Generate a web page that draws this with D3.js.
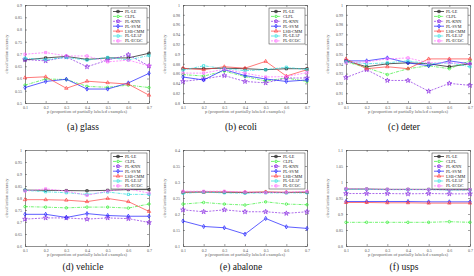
<!DOCTYPE html>
<html>
<head>
<meta charset="utf-8">
<script src="https://cdn.jsdelivr.net/npm/d3@7"></script>
<style>
  body { margin: 0; background: #fff; }
  text { font-family: "Liberation Serif", "DejaVu Serif", serif; }
</style>
</head>
<body>
<svg width="474" height="276"></svg>
<script>
// proportion of partially labeled examples
var pValues = [0.1, 0.2, 0.3, 0.4, 0.5, 0.6, 0.7];
var methods = ["PL-LE", "CLPL", "PL-KNN", "PL-SVM", "LSB-CMM", "PL-LEAF", "PL-ECOC"];

// accuracies, one row per method (same order as methods)
var glass = [
  [0.676, 0.684, 0.690, 0.678, 0.684, 0.684, 0.703],
  [0.573, 0.598, 0.596, 0.568, 0.564, 0.573, 0.563],
  [0.677, 0.672, 0.688, 0.648, 0.675, 0.697, 0.651],
  [0.563, 0.588, 0.597, 0.557, 0.557, 0.582, 0.621],
  [0.603, 0.607, 0.560, 0.589, 0.583, 0.577, 0.532],
  [0.683, 0.677, 0.686, 0.675, 0.686, 0.676, 0.694],
  [0.699, 0.706, 0.692, 0.692, 0.668, 0.675, 0.652]
];
var ecoli = [
  [0.870, 0.870, 0.871, 0.870, 0.868, 0.870, 0.870],
  [0.858, 0.855, 0.865, 0.854, 0.845, 0.851, 0.844],
  [0.844, 0.849, 0.856, 0.844, 0.841, 0.851, 0.851],
  [0.853, 0.847, 0.868, 0.856, 0.849, 0.844, 0.847],
  [0.871, 0.868, 0.874, 0.871, 0.885, 0.855, 0.868],
  [0.867, 0.876, 0.870, 0.866, 0.868, 0.873, 0.868],
  [0.861, 0.861, 0.869, 0.861, 0.853, 0.854, 0.862]
];
var deter = [
  [0.943, 0.937, 0.940, 0.941, 0.940, 0.937, 0.940],
  [0.942, 0.936, 0.929, 0.935, 0.938, 0.935, 0.943],
  [0.926, 0.934, 0.923, 0.923, 0.912, 0.920, 0.918],
  [0.943, 0.943, 0.946, 0.941, 0.938, 0.943, 0.940],
  [0.945, 0.935, 0.937, 0.935, 0.945, 0.945, 0.945],
  [0.942, 0.940, 0.941, 0.943, 0.940, 0.941, 0.937],
  [0.941, 0.942, 0.945, 0.946, 0.941, 0.941, 0.940]
];
var vehicle = [
  [0.833, 0.832, 0.831, 0.830, 0.832, 0.835, 0.835],
  [0.764, 0.762, 0.759, 0.762, 0.762, 0.758, 0.775],
  [0.712, 0.717, 0.717, 0.712, 0.717, 0.714, 0.698],
  [0.732, 0.732, 0.719, 0.735, 0.727, 0.724, 0.724],
  [0.793, 0.793, 0.791, 0.785, 0.798, 0.785, 0.744],
  [0.832, 0.826, 0.822, 0.815, 0.825, 0.815, 0.815],
  [0.829, 0.838, 0.829, 0.811, 0.829, 0.838, 0.820]
];
var abalone = [
  [0.268, 0.269, 0.268, 0.267, 0.268, 0.267, 0.268],
  [0.231, 0.236, 0.231, 0.228, 0.238, 0.231, 0.229],
  [0.213, 0.207, 0.213, 0.207, 0.207, 0.202, 0.207],
  [0.178, 0.161, 0.157, 0.137, 0.186, 0.160, 0.155],
  [0.268, 0.268, 0.269, 0.268, 0.269, 0.268, 0.268],
  [0.265, 0.268, 0.266, 0.265, 0.266, 0.266, 0.266],
  [0.271, 0.271, 0.271, 0.269, 0.267, 0.268, 0.271]
];
var usps = [
  [0.978, 0.978, 0.977, 0.977, 0.977, 0.976, 0.976],
  [0.874, 0.874, 0.874, 0.874, 0.874, 0.876, 0.874],
  [0.964, 0.964, 0.964, 0.963, 0.964, 0.963, 0.963],
  [0.939, 0.939, 0.939, 0.939, 0.938, 0.938, 0.938],
  [0.936, 0.936, 0.935, 0.935, 0.934, 0.934, 0.934],
  [0.977, 0.977, 0.976, 0.976, 0.976, 0.975, 0.975],
  [0.979, 0.978, 0.977, 0.977, 0.976, 0.976, 0.976]
];

var glassTicks   = [0.5, 0.55, 0.6, 0.65, 0.7, 0.75, 0.8, 0.85, 0.9];
var ecoliTicks   = [0.8, 0.82, 0.84, 0.86, 0.88, 0.9, 0.92, 0.94, 0.96, 0.98, 1];
var deterTicks   = [0.9, 0.91, 0.92, 0.93, 0.94, 0.95, 0.96, 0.97, 0.98, 0.99, 1];
var vehicleTicks = [0.6, 0.65, 0.7, 0.75, 0.8, 0.85, 0.9, 0.95, 1];
var abaloneTicks = [0.1, 0.15, 0.2, 0.25, 0.3, 0.35, 0.4];
var uspsTicks    = [0.8, 0.85, 0.9, 0.95, 1, 1.05, 1.1];

var captions = ["(a) glass", "(b) ecoli", "(c) deter", "(d) vehicle", "(e) abalone", "(f) usps"];

var colors  = ["#111111", "#33ee33", "#8a2be2", "#1a1aff", "#ff4040", "#22dddd", "#ff66ff"];
var dashes  = [null, "3,1,0.8,1", "2,1.3", null, null, "3,1,0.8,1", "2,1.3"];
var symbols = [d3.symbolSquare, d3.symbolCircle, d3.symbolStar, d3.symbolDiamond,
               d3.symbolTriangle, d3.symbolSquare, d3.symbolSquare];

var panels = [
  {data: glass,   ticks: glassTicks,   x0: 25,  y0: 5,   w: 124, h: 98, cap: 27},
  {data: ecoli,   ticks: ecoliTicks,   x0: 183, y0: 5,   w: 124, h: 98, cap: 27},
  {data: deter,   ticks: deterTicks,   x0: 346, y0: 5,   w: 124, h: 98, cap: 27},
  {data: vehicle, ticks: vehicleTicks, x0: 25,  y0: 150, w: 124, h: 96, cap: 24},
  {data: abalone, ticks: abaloneTicks, x0: 183, y0: 150, w: 124, h: 96, cap: 24},
  {data: usps,    ticks: uspsTicks,    x0: 346, y0: 150, w: 124, h: 96, cap: 24}
];

var svg = d3.select("svg");
var fmt = function(d) { return String(+d.toFixed(2)); };

panels.forEach(function(p, pi) {
  var g = svg.append("g").attr("transform", "translate(" + p.x0 + "," + p.y0 + ")");
  var x = d3.scaleLinear().domain([0.1, 0.7]).range([0, p.w]);
  var y = d3.scaleLinear().domain(d3.extent(p.ticks)).range([p.h, 0]);

  // axes, matlab style: ticks inward on all four sides
  var ax = [
    {a: d3.axisBottom(x).tickValues(pValues).tickFormat(fmt), t: "translate(0," + p.h + ")"},
    {a: d3.axisTop(x).tickValues(pValues).tickFormat(""), t: null},
    {a: d3.axisLeft(y).tickValues(p.ticks).tickFormat(fmt), t: null},
    {a: d3.axisRight(y).tickValues(p.ticks).tickFormat(""), t: "translate(" + p.w + ",0)"}
  ];
  ax.forEach(function(o) {
    var ag = g.append("g").call(o.a.tickSizeInner(-2).tickSizeOuter(0).tickPadding(3));
    if (o.t) ag.attr("transform", o.t);
    ag.select(".domain").attr("stroke", "#444").attr("stroke-width", 0.6);
    ag.selectAll(".tick line").attr("stroke", "#444").attr("stroke-width", 0.5);
    ag.selectAll("text").attr("font-size", 4).attr("fill", "#555")
      .attr("font-family", "Liberation Serif, serif");
  });

  // series
  var line = d3.line()
    .x(function(d, i) { return x(pValues[i]); })
    .y(function(d) { return y(d); });

  p.data.forEach(function(vals, k) {
    g.append("path")
      .attr("d", line(vals))
      .attr("fill", "none")
      .attr("stroke", colors[k])
      .attr("stroke-width", 0.7)
      .attr("stroke-dasharray", dashes[k]);
    g.selectAll(".m" + k).data(vals).enter().append("path")
      .attr("transform", function(d, i) { return "translate(" + x(pValues[i]) + "," + y(d) + ")"; })
      .attr("d", d3.symbol().type(symbols[k]).size(k == 2 ? 7 : 5))
      .attr("fill", "none")
      .attr("stroke", colors[k])
      .attr("stroke-width", 0.7);
  });

  // legend
  var lw = 36, lh = 36;
  var lg = g.append("g").attr("transform", "translate(" + (p.w - lw - 2) + ",3)");
  lg.append("rect").attr("width", lw).attr("height", lh)
    .attr("fill", "#fff").attr("stroke", "#333").attr("stroke-width", 0.5);
  methods.forEach(function(m, k) {
    var yy = 3.5 + k * 4.9;
    lg.append("line").attr("x1", 2).attr("x2", 12).attr("y1", yy).attr("y2", yy)
      .attr("stroke", colors[k]).attr("stroke-width", 0.7)
      .attr("stroke-dasharray", dashes[k]);
    lg.append("path").attr("transform", "translate(7," + yy + ")")
      .attr("d", d3.symbol().type(symbols[k]).size(5))
      .attr("fill", "none").attr("stroke", colors[k]).attr("stroke-width", 0.7);
    lg.append("text").attr("x", 14).attr("y", yy + 1.4)
      .attr("font-size", 4.2).attr("font-variant", "small-caps").attr("fill", "#222")
      .text(m);
  });

  // axis titles
  g.append("text")
    .attr("transform", "translate(-17," + (p.h / 2) + ") rotate(-90)")
    .attr("text-anchor", "middle").attr("font-size", 4.3).attr("fill", "#666")
    .text("classification accuracy");
  g.append("text")
    .attr("x", p.w / 2).attr("y", p.h + 10)
    .attr("text-anchor", "middle").attr("font-size", 4.6).attr("fill", "#666")
    .text("p (proportion of partially labeled examples)");

  // caption
  g.append("text")
    .attr("x", p.w / 2 - 4).attr("y", p.h + p.cap)
    .attr("text-anchor", "middle").attr("font-size", 9.5).attr("fill", "#111")
    .text(captions[pi]);
});
</script>
</body>
</html>
